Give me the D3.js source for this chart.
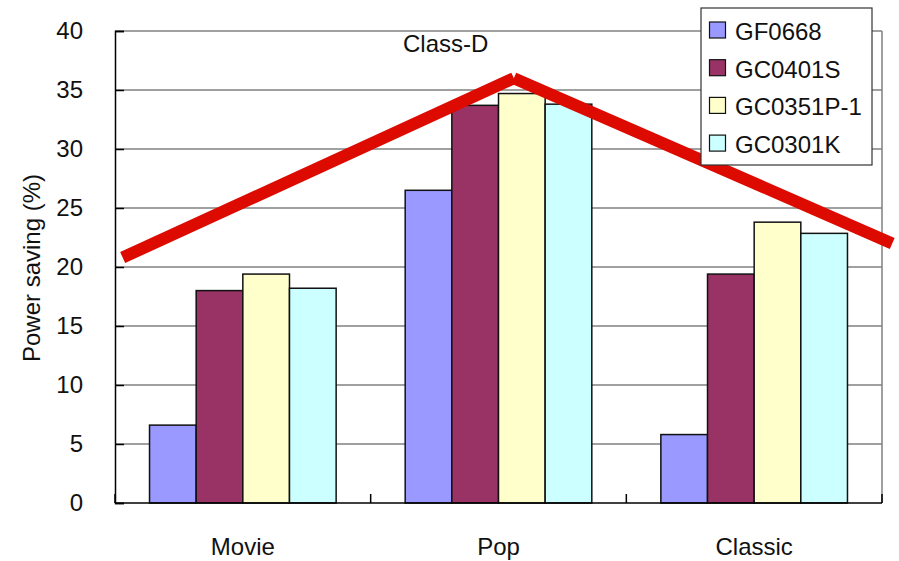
<!DOCTYPE html>
<html>
<head>
<meta charset="utf-8">
<script src="https://cdn.jsdelivr.net/npm/d3@7/dist/d3.min.js"></script>
<style>
  html, body { margin: 0; padding: 0; background: #fff; }
  svg { display: block; font-family: "Liberation Sans", Arial, sans-serif; }
</style>
</head>
<body>
<svg id="chart" width="899" height="561"></svg>
<script>
// Power saving per music genre for four amplifier parts
const categories = ["Movie", "Pop", "Classic"];
const seriesNames = ["GF0668", "GC0401S", "GC0351P-1", "GC0301K"];
const GF0668 = [6.6, 26.5, 5.8];
const GC0401S = [18.0, 33.7, 19.4];
const GC0351P1 = [19.4, 34.7, 23.8];
const GC0301K = [18.2, 33.8, 22.85];
const seriesColors = ["#9999ff", "#993366", "#ffffcc", "#ccffff"];
const yTicks = [0, 5, 10, 15, 20, 25, 30, 35, 40];

// Class-D trend annotation, x in category-index units across the plot
const classDX = [0.03, 1.56, 3.04];
const classDY = [20.8, 36.0, 22.0];

const seriesValues = [GF0668, GC0401S, GC0351P1, GC0301K];

const svg = d3.select("#chart");
const plot = { left: 115, right: 882, top: 31, bottom: 503 };

const y = d3.scaleLinear().domain([0, 40]).range([plot.bottom, plot.top]);
const x0 = d3.scaleBand().domain(categories).range([plot.left, plot.right]).padding(0);
const x1 = d3.scaleBand().domain(seriesNames).range([0, x0.bandwidth()])
  .paddingInner(0).paddingOuter(0.74);
const xLin = d3.scaleLinear().domain([0, 3]).range([plot.left, plot.right]);

// horizontal gridlines
svg.append("g")
  .selectAll("line")
  .data(yTicks.filter(d => d > 0))
  .join("line")
  .attr("x1", plot.left).attr("x2", plot.right)
  .attr("y1", d => y(d)).attr("y2", d => y(d))
  .attr("stroke", "#808080").attr("stroke-width", 1.5);

// right border of plot area
svg.append("line")
  .attr("x1", plot.right).attr("x2", plot.right)
  .attr("y1", plot.top).attr("y2", plot.bottom)
  .attr("stroke", "#808080").attr("stroke-width", 1.5);

// bars
const groups = svg.append("g")
  .selectAll("g")
  .data(categories)
  .join("g")
  .attr("transform", d => `translate(${x0(d)},0)`);

groups.selectAll("rect")
  .data((c, i) => seriesNames.map((s, j) => ({ s, v: seriesValues[j][i], j })))
  .join("rect")
  .attr("x", d => x1(d.s))
  .attr("width", x1.bandwidth())
  .attr("y", d => y(d.v))
  .attr("height", d => y(0) - y(d.v))
  .attr("fill", d => seriesColors[d.j])
  .attr("stroke", "#111")
  .attr("stroke-width", 1.5);

// y axis with inward ticks
const yAxis = d3.axisLeft(y).tickValues(yTicks).tickSize(-9).tickPadding(32);
const gy = svg.append("g").attr("transform", `translate(${plot.left},0)`).call(yAxis);
gy.select(".domain").attr("stroke", "#000").attr("stroke-width", 1.5);
gy.selectAll(".tick line").attr("stroke", "#000").attr("stroke-width", 1.5);
gy.selectAll(".tick text")
  .attr("font-size", 24).attr("fill", "#111")
  .attr("font-family", "Liberation Sans, Arial, sans-serif");

// x axis: tick marks at category boundaries, pointing up
const bounds = [0, 1, 2, 3];
const gx = svg.append("g");
gx.append("line")
  .attr("x1", plot.left).attr("x2", plot.right)
  .attr("y1", plot.bottom).attr("y2", plot.bottom)
  .attr("stroke", "#000").attr("stroke-width", 1.5);
gx.selectAll("line.b")
  .data(bounds)
  .join("line").attr("class", "b")
  .attr("x1", d => xLin(d)).attr("x2", d => xLin(d))
  .attr("y1", plot.bottom).attr("y2", plot.bottom - 9)
  .attr("stroke", "#000").attr("stroke-width", 1.5);
gx.selectAll("text")
  .data(categories)
  .join("text")
  .attr("x", d => x0(d) + x0.bandwidth() / 2)
  .attr("y", 555)
  .attr("text-anchor", "middle")
  .attr("font-size", 24).attr("fill", "#111")
  .text(d => d);

// y axis title
svg.append("text")
  .attr("transform", "translate(40,268) rotate(-90)")
  .attr("text-anchor", "middle")
  .attr("font-size", 24).attr("fill", "#111")
  .text("Power saving (%)");

// Class-D trend line, drawn as two separate strokes
const segs = d3.pairs(d3.range(classDX.length));
svg.append("g")
  .selectAll("line")
  .data(segs)
  .join("line")
  .attr("x1", d => xLin(classDX[d[0]])).attr("y1", d => y(classDY[d[0]]))
  .attr("x2", d => xLin(classDX[d[1]])).attr("y2", d => y(classDY[d[1]]))
  .attr("stroke", "#dd0a00").attr("stroke-width", 12)
  .attr("stroke-linecap", "butt");

svg.append("text")
  .attr("x", 403).attr("y", 52)
  .attr("font-size", 24).attr("fill", "#111")
  .text("Class-D");

// legend
const legend = svg.append("g").attr("transform", "translate(701,8)");
legend.append("rect")
  .attr("x", 0).attr("y", 0).attr("width", 171).attr("height", 157)
  .attr("fill", "#fff").attr("stroke", "#333").attr("stroke-width", 1.2);
const items = legend.selectAll("g.item")
  .data(seriesNames)
  .join("g").attr("class", "item")
  .attr("transform", (d, i) => `translate(0,${14 + i * 37.7})`);
items.append("rect")
  .attr("x", 8.5).attr("y", 0).attr("width", 16).attr("height", 16)
  .attr("fill", (d, i) => seriesColors[i])
  .attr("stroke", "#111").attr("stroke-width", 1.2);
items.append("text")
  .attr("x", 34).attr("y", 18)
  .attr("font-size", 24).attr("fill", "#111")
  .text(d => d);
</script>
</body>
</html>
